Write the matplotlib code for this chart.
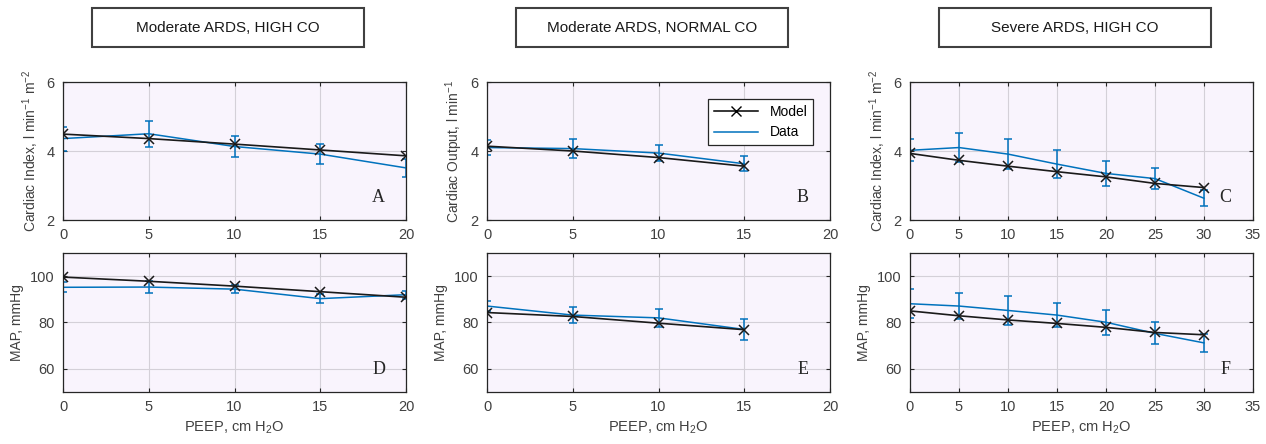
import matplotlib
matplotlib.use("Agg")
import matplotlib.pyplot as plt
from matplotlib.patches import Rectangle
from matplotlib.lines import Line2D

plt.rcParams['font.family'] = ['Liberation Sans', 'DejaVu Sans']
plt.rcParams['mathtext.default'] = 'regular'

# PEEP levels per scenario
peep_a = [0, 5, 10, 15, 20]
peep_b = [0, 5, 10, 15]
peep_c = [0, 5, 10, 15, 20, 25, 30]

# Cardiac index / output: model, data, data SD
ci_model_a = [4.49, 4.36, 4.20, 4.03, 3.86]
ci_data_a = [4.36, 4.50, 4.13, 3.91, 3.51]
ci_err_a = [0.35, 0.37, 0.30, 0.28, 0.27]

co_model_b = [4.14, 4.00, 3.81, 3.56]
co_data_b = [4.10, 4.07, 3.94, 3.63]
co_err_b = [0.22, 0.28, 0.22, 0.22]

ci_model_c = [3.93, 3.73, 3.56, 3.40, 3.25, 3.06, 2.94]
ci_data_c = [4.02, 4.10, 3.91, 3.62, 3.35, 3.20, 2.63]
ci_err_c = [0.32, 0.42, 0.44, 0.40, 0.35, 0.30, 0.23]

# MAP: model, data, data SD
map_model_d = [99.6, 97.8, 95.7, 93.3, 90.9]
map_data_d = [95.2, 95.3, 94.4, 90.3, 92.0]
map_err_d = [2.2, 2.5, 1.6, 2.0, 1.8]

map_model_e = [84.3, 82.6, 79.7, 76.9]
map_data_e = [87.1, 83.2, 82.0, 77.0]
map_err_e = [2.3, 3.5, 3.8, 4.4]

map_model_f = [85.0, 82.9, 81.1, 79.6, 77.9, 75.7, 74.7]
map_data_f = [88.1, 87.1, 85.2, 83.2, 80.1, 75.3, 71.2]
map_err_f = [6.2, 5.8, 6.2, 5.3, 5.4, 4.7, 4.0]

titles = ["Moderate ARDS, HIGH CO", "Moderate ARDS, NORMAL CO", "Severe ARDS, HIGH CO"]

blue = '#0072BD'
bg = '#f9f4fd'

W, H = 1266, 444
fig = plt.figure(figsize=(W / 100, H / 100), dpi=100)

lefts = [63, 487, 910]
width = 343
top_row = (82, 220)
bot_row = (253, 392)


def make_ax(left, row):
    t, b = row
    return fig.add_axes([left / W, 1 - b / H, width / W, (b - t) / H])


def style(ax, xmax, ylim, yticks, letter):
    ax.set_facecolor(bg)
    ax.set_xlim(0, xmax)
    ax.set_xticks(range(0, xmax + 1, 5))
    ax.set_ylim(*ylim)
    ax.set_yticks(yticks)
    ax.grid(True, color='#d4d0d8', linewidth=0.8)
    ax.set_axisbelow(True)
    ax.tick_params(direction='in', top=True, right=True, length=3,
                   labelsize=10.5, colors='#262626', labelcolor='#404040', pad=6)
    for s in ax.spines.values():
        s.set_color('#262626')
        s.set_linewidth(0.9)
    ax.text(0.92, 0.16, letter, transform=ax.transAxes, fontsize=13,
            family='Liberation Serif', color='#262626', ha='center', va='center')


def draw(ax, x, model, data, err):
    ax.errorbar(x, data, yerr=err, color=blue, linewidth=1.1, capsize=3,
                elinewidth=1.1, capthick=1.1, zorder=2)
    ax.plot(x, model, color='#1a1a1a', linewidth=1.2, marker='x',
            markersize=7, markeredgewidth=1.1, zorder=3)


ylabel_kw = dict(fontsize=10, color='#404040')

axA = make_ax(lefts[0], top_row)
draw(axA, peep_a, ci_model_a, ci_data_a, ci_err_a)
style(axA, 20, (2, 6), [2, 4, 6], 'A')
axA.set_ylabel('Cardiac Index, l min$^{-1}$ m$^{-2}$', **ylabel_kw)

axB = make_ax(lefts[1], top_row)
draw(axB, peep_b, co_model_b, co_data_b, co_err_b)
style(axB, 20, (2, 6), [2, 4, 6], 'B')
axB.set_ylabel('Cardiac Output, l min$^{-1}$', **ylabel_kw)
handles = [Line2D([], [], color='black', marker='x', markersize=7, linewidth=1.1),
           Line2D([], [], color=blue, linewidth=1.1)]
leg = axB.legend(handles, ['Model', 'Data'], loc='upper right',
                 bbox_to_anchor=(0.95, 0.877), borderaxespad=0, fancybox=False,
                 fontsize=10, handlelength=3.2, framealpha=1)
leg.get_frame().set_edgecolor('#262626')
leg.get_frame().set_linewidth(0.9)

axC = make_ax(lefts[2], top_row)
draw(axC, peep_c, ci_model_c, ci_data_c, ci_err_c)
style(axC, 35, (2, 6), [2, 4, 6], 'C')
axC.set_ylabel('Cardiac Index, l min$^{-1}$ m$^{-2}$', **ylabel_kw)

bottom = [(peep_a, map_model_d, map_data_d, map_err_d, 20, 'D'),
          (peep_b, map_model_e, map_data_e, map_err_e, 20, 'E'),
          (peep_c, map_model_f, map_data_f, map_err_f, 35, 'F')]
for left, (x, m, d, e, xmax, letter) in zip(lefts, bottom):
    ax = make_ax(left, bot_row)
    draw(ax, x, m, d, e)
    style(ax, xmax, (50, 110), [60, 80, 100], letter)
    ax.set_ylabel('MAP, mmHg', **ylabel_kw)
    ax.set_xlabel('PEEP, cm H$_2$O', fontsize=10.5, color='#404040')

# title boxes
for left, title in zip(lefts, titles):
    bx = left + 29
    fig.add_artist(Rectangle((bx / W, 1 - 47 / H), 272 / W, 39 / H,
                             transform=fig.transFigure, facecolor='white',
                             edgecolor='#404040', linewidth=1.5))
    fig.text((bx + 136) / W, 1 - 27.5 / H, title, ha='center', va='center',
             fontsize=11, color='#1a1a1a')

fig.savefig('out.png', dpi=100)
